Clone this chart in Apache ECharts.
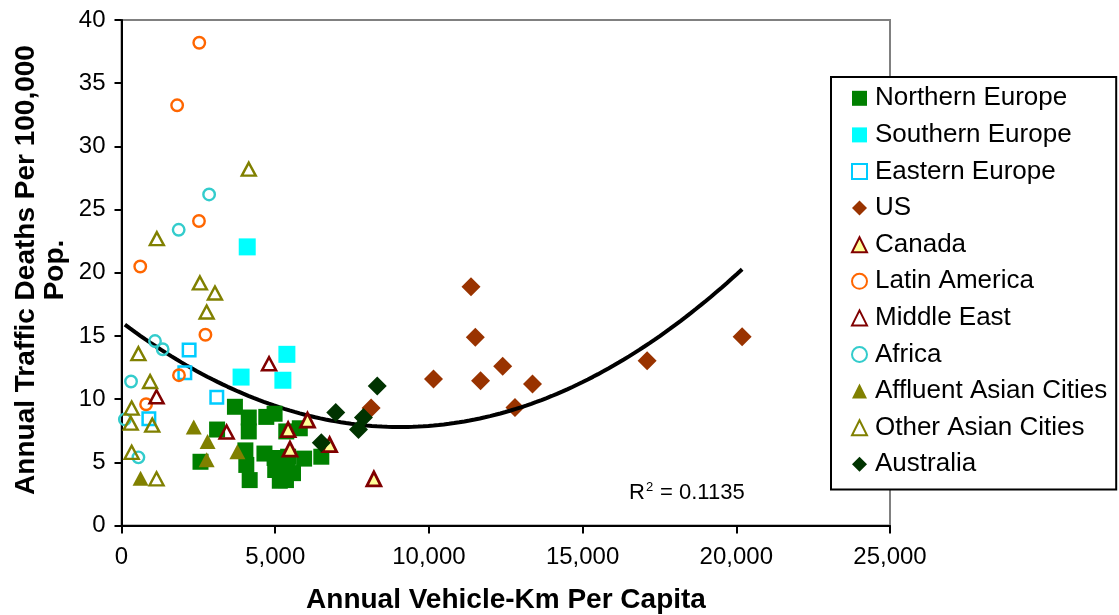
<!DOCTYPE html>
<html>
<head>
<meta charset="utf-8">
<script src="https://cdn.jsdelivr.net/npm/echarts@6/dist/echarts.min.js"></script>
<style>
  html, body { margin: 0; padding: 0; background: #fff; }
  #chart { width: 1119px; height: 615px; }
</style>
</head>
<body>
<div id="chart"></div>
<script>
// Annual vehicle-km per capita (x) vs. annual traffic deaths per 100,000 pop. (y)
const northernEurope = [[3690, 9.4], [4140, 8.55], [4140, 7.45], [3110, 7.6], [2570, 5.05], [4710, 8.6], [4980, 8.85], [5360, 7.45], [5800, 7.7], [4030, 5.95], [4060, 4.8], [4170, 3.6], [4650, 5.7], [4980, 5.35], [5420, 5.45], [5940, 5.3], [6500, 5.45], [5150, 3.55], [5580, 4.15], [5400, 4.6], [5000, 4.4], [5350, 3.6]];
const southernEurope = [[4090, 22.05], [5380, 13.55], [3890, 11.75], [5250, 11.5]];
const easternEurope = [[2200, 13.9], [2060, 12.1], [3100, 10.15], [890, 8.45]];
const us = [[11370, 18.9], [11510, 14.9], [10150, 11.6], [11680, 11.45], [12400, 12.6], [13370, 11.2], [12800, 9.35], [17100, 13.05], [20190, 14.95], [8120, 9.3]];
const canada = [[6050, 8.35], [5420, 7.6], [5480, 6.05], [6770, 6.4], [8210, 3.7]];
const latinAmerica = [[2530, 38.2], [1810, 33.25], [2520, 24.1], [610, 20.5], [2730, 15.1], [1870, 11.9], [800, 9.6]];
const middleEast = [[4800, 12.8], [1140, 10.2], [3420, 7.4]];
const africa = [[2850, 26.2], [1860, 23.4], [1090, 14.6], [1340, 13.95], [310, 11.4], [110, 8.4], [550, 5.4]];
const affluentAsian = [[2350, 7.8], [2800, 6.65], [2770, 5.2], [620, 3.75], [3770, 5.85]];
const otherAsian = [[4140, 28.2], [1150, 22.7], [2550, 19.2], [3040, 18.4], [2770, 16.9], [550, 13.6], [930, 11.4], [330, 9.3], [300, 8.1], [1000, 7.95], [330, 5.8], [1140, 3.7]];
const australia = [[8320, 11.05], [6970, 8.95], [7870, 8.55], [7710, 7.6], [6500, 6.55]];

const xTicks = { min: 0, max: 25000, step: 5000 };
const yTicks = { min: 0, max: 40, step: 5 };

// Polynomial (order 2) trendline: y = c0 + c1*u + c2*u^2, with u = vehicle-km / 1000
const trendCoefficients = [16.1, -1.83, 0.1009];
const trendRange = [110, 20190];
const rSquaredText = '= 0.1135';

const FONT = '"Liberation Sans", Arial, sans-serif';

const trend = [];
for (let i = 0; i <= 120; i++) {
  const xv = trendRange[0] + (trendRange[1] - trendRange[0]) * i / 120;
  const u = xv / 1000;
  trend.push([xv, trendCoefficients[0] + trendCoefficients[1] * u + trendCoefficients[2] * u * u]);
}

function scatter(name, data, symbol, size, style, z) {
  return { name, type: 'scatter', data, symbol, symbolSize: size,
    itemStyle: Object.assign({ opacity: 1 }, style), z: z || 3 };
}
const hollow = 'rgba(0,0,0,0)';

const option = {
  animation: false,
  backgroundColor: '#ffffff',
  grid: { left: 121.5, right: 229, top: 20, bottom: 89.4, show: true, borderColor: '#808080', borderWidth: 2 },
  xAxis: {
    type: 'value', min: xTicks.min, max: xTicks.max, interval: xTicks.step,
    axisLine: { show: true, onZero: false, lineStyle: { color: '#000', width: 2 } },
    axisTick: { show: true, length: 8, lineStyle: { color: '#000', width: 2 } },
    axisLabel: { color: '#000', fontSize: 24, fontFamily: FONT, margin: 20,
      formatter: v => v.toLocaleString('en-US') },
    splitLine: { show: false }
  },
  yAxis: {
    type: 'value', min: yTicks.min, max: yTicks.max, interval: yTicks.step,
    axisLine: { show: true, onZero: false, lineStyle: { color: '#000', width: 2 } },
    axisTick: { show: true, length: 7, lineStyle: { color: '#000', width: 2 } },
    axisLabel: { color: '#000', fontSize: 24, fontFamily: FONT, margin: 16 },
    splitLine: { show: false }
  },
  legend: {
    orient: 'vertical', left: 831, top: 77,
    padding: [3, 9, 7, 20], itemGap: 0, itemWidth: 15, itemHeight: 15,
    backgroundColor: '#fff', borderColor: '#000', borderWidth: 2,
    textStyle: { color: '#000', fontSize: 26, fontFamily: FONT, lineHeight: 36.6, padding: [0, 0, 0, 3] },
    data: ['Northern Europe', 'Southern Europe', 'Eastern Europe', 'US', 'Canada', 'Latin America',
      'Middle East', 'Africa', 'Affluent Asian Cities', 'Other Asian Cities', 'Australia']
  },
  series: [
    scatter('Northern Europe', northernEurope, 'rect', 16, { color: '#008000' }),
    scatter('Southern Europe', southernEurope, 'rect', 17, { color: '#00FFFF' }),
    scatter('Eastern Europe', easternEurope, 'rect', 12.5, { color: hollow, borderColor: '#00CCFF', borderWidth: 2.5 }),
    scatter('US', us, 'diamond', 19, { color: '#993300' }, 2),
    {
      name: 'trend', type: 'line', data: trend, showSymbol: false, symbol: 'none', z: 2.5,
      lineStyle: { color: '#000', width: 4 }, silent: true
    },
    scatter('Canada', canada, 'triangle', [14, 14], { color: '#FFFF99', borderColor: '#800000', borderWidth: 2.8 }),
    scatter('Latin America', latinAmerica, 'circle', 11.5, { color: hollow, borderColor: '#FF6600', borderWidth: 2.4 }),
    scatter('Middle East', middleEast, 'triangle', [14, 13], { color: hollow, borderColor: '#800000', borderWidth: 2.5 }),
    scatter('Africa', africa, 'circle', 11.5, { color: hollow, borderColor: '#33CCCC', borderWidth: 2.4 }),
    scatter('Affluent Asian Cities', affluentAsian, 'triangle', [16, 15], { color: '#808000' }),
    scatter('Other Asian Cities', otherAsian, 'triangle', [14, 13], { color: hollow, borderColor: '#808000', borderWidth: 2.4 }),
    scatter('Australia', australia, 'diamond', 19, { color: '#003300' })
  ],
  graphic: [
    {
      type: 'text', x: 506, y: 600,
      style: { text: 'Annual Vehicle-Km Per Capita', fill: '#000', font: 'bold 28px ' + FONT,
        textAlign: 'center', textVerticalAlign: 'middle' }
    },
    {
      type: 'text', x: 41, y: 270, rotation: Math.PI / 2,
      style: { text: 'Annual Traffic Deaths Per 100,000\nPop.', fill: '#000', font: 'bold 28px ' + FONT,
        lineHeight: 29, textAlign: 'center', textVerticalAlign: 'middle' }
    },
    {
      type: 'text', x: 629, y: 493,
      style: { text: 'R', fill: '#000', font: '22px ' + FONT, textAlign: 'left', textVerticalAlign: 'middle' }
    },
    {
      type: 'text', x: 646, y: 487.5,
      style: { text: '2', fill: '#000', font: '13px ' + FONT, textAlign: 'left', textVerticalAlign: 'middle' }
    },
    {
      type: 'text', x: 660, y: 493,
      style: { text: rSquaredText, fill: '#000', font: '22px ' + FONT, textAlign: 'left', textVerticalAlign: 'middle' }
    }
  ]
};

const chart = echarts.init(document.getElementById('chart'), null, { renderer: 'canvas' });
chart.setOption(option);
</script>
</body>
</html>
